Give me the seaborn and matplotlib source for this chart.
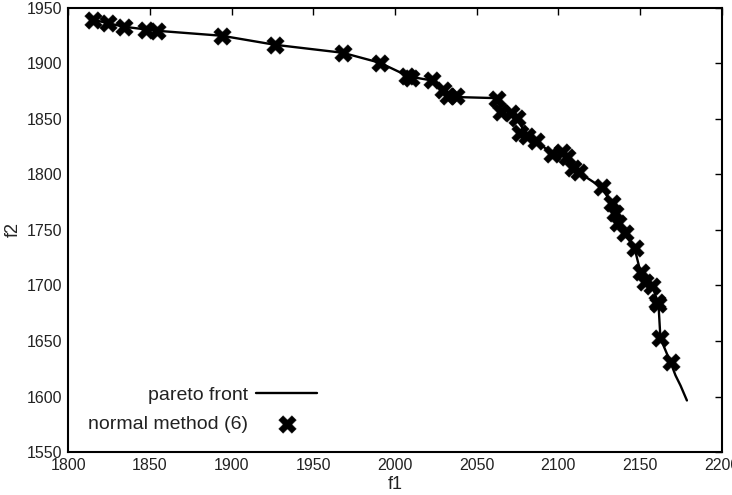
import matplotlib
matplotlib.use("Agg")
import matplotlib.pyplot as plt
import seaborn as sns
import pandas as pd

# normal method (6) solutions
method_f1 = [1815.1, 1824.3, 1834.1, 1847.6, 1854.3, 1894.1, 1926.5, 1968.1, 1990.8,
             2007.5, 2010.0, 2022.6, 2029.3, 2032.4, 2037.3, 2062.4, 2064.9, 2071.0,
             2074.6, 2076.5, 2080.8, 2086.3, 2096.0, 2102.2, 2105.2, 2109.0, 2112.6,
             2126.6, 2132.7, 2134.5, 2136.4, 2140.7, 2146.8, 2150.4, 2153.4, 2157.7,
             2160.2, 2161.4, 2162.6, 2168.8]
method_f2 = [1939.0, 1936.3, 1932.7, 1930.0, 1929.1, 1924.6, 1916.5, 1909.3, 1900.3,
             1888.5, 1886.5, 1884.4, 1875.4, 1870.0, 1870.0, 1867.3, 1855.6, 1854.7,
             1850.2, 1837.6, 1834.9, 1830.4, 1818.7, 1820.5, 1816.0, 1805.3, 1801.7,
             1788.2, 1773.8, 1764.8, 1755.8, 1746.8, 1733.3, 1711.8, 1702.8, 1699.2,
             1684.8, 1683.0, 1652.4, 1630.8]

# pareto front
pareto_f1 = [1815.1, 1834.1, 1854.3, 1894.1, 1926.5, 1968.1, 1990.8, 2008.5, 2022.6,
             2030.0, 2037.3, 2062.4, 2066.0, 2074.6, 2080.8, 2086.3, 2096.0, 2105.2,
             2112.6, 2126.6, 2132.7, 2136.4, 2140.7, 2146.8, 2150.4, 2153.4, 2157.7,
             2161.0, 2161.4, 2162.6, 2168.8, 2171.8, 2174.9, 2178.8]
pareto_f2 = [1939.0, 1932.7, 1929.1, 1924.6, 1916.5, 1909.3, 1900.3, 1888.0, 1884.4,
             1874.0, 1869.5, 1868.5, 1855.0, 1850.2, 1834.9, 1830.4, 1818.7, 1816.0,
             1801.7, 1788.2, 1773.8, 1755.8, 1746.8, 1733.3, 1711.8, 1702.8, 1699.2,
             1685.0, 1683.0, 1652.4, 1630.8, 1619.2, 1610.0, 1596.6]

x_ticks = [1800, 1850, 1900, 1950, 2000, 2050, 2100, 2150, 2200]
y_ticks = [1550, 1600, 1650, 1700, 1750, 1800, 1850, 1900, 1950]

sns.set_style("white")
plt.rcParams["font.family"] = ["Liberation Sans", "DejaVu Sans"]

fig = plt.figure(figsize=(7.32, 4.95), dpi=100)
ax = fig.add_axes([0.0933, 0.0863, 0.8924, 0.8985])

pareto_df = pd.DataFrame({"f1": pareto_f1, "f2": pareto_f2})
method_df = pd.DataFrame({"f1": method_f1, "f2": method_f2})

sns.lineplot(data=pareto_df, x="f1", y="f2", sort=False, color="black",
             linewidth=1.7, ax=ax, label="pareto front")
sns.scatterplot(data=method_df, x="f1", y="f2", marker="X", s=160, color="black",
                edgecolor="black", linewidth=0.3, ax=ax, label="normal method (6)",
                zorder=3)

ax.set_xlim(1800, 2200)
ax.set_ylim(1550, 1950)
ax.set_xticks(x_ticks)
ax.set_yticks(y_ticks)
ax.tick_params(direction="in", length=5, width=1, top=True, right=True,
               labelsize=11.5, colors="black", pad=4)
for lab in ax.get_xticklabels() + ax.get_yticklabels():
    lab.set_color("#222222")
for sp in ax.spines.values():
    sp.set_visible(True)
    sp.set_color("black")
    sp.set_linewidth(1.5)

ax.set_xlabel("f1", fontsize=13, labelpad=2, color="#222222")
ax.set_ylabel("f2", fontsize=13, labelpad=4, color="#222222")

leg = ax.legend(loc="center", bbox_to_anchor=(0.205, 0.096), frameon=False,
                markerfirst=False, fontsize=14, handlelength=3.1,
                handletextpad=0.45, labelspacing=0.6, borderpad=0)
for t in leg.get_texts():
    t.set_color("#222222")

fig.savefig("out.png", dpi=100)
